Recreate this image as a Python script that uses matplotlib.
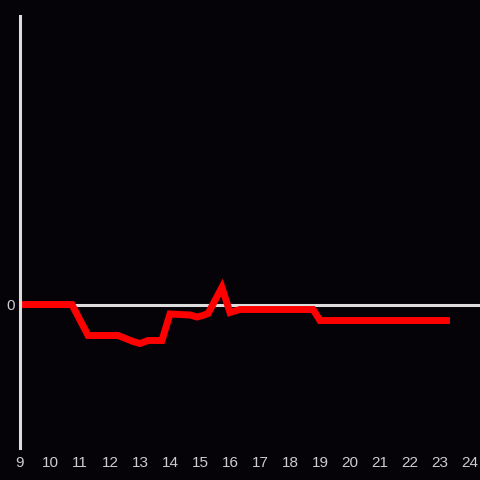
import matplotlib
matplotlib.use('agg')
import matplotlib.pyplot as plt

hours = [9.0, 10.73, 11.27, 12.27, 12.77, 13.0, 13.27, 13.73, 14.0, 14.67, 14.9, 15.1, 15.27,
         15.73, 16.0, 16.33, 18.77, 19.0, 23.33]
values = [0.0, 0.0, -3.1, -3.1, -3.7, -3.9, -3.6, -3.6, -0.95, -1.05, -1.25, -1.1, -0.9,
          1.7, -0.8, -0.5, -0.5, -1.6, -1.6]
xticks = list(range(9, 25))

bg = '#050308'
fig = plt.figure(figsize=(4.8, 4.8), dpi=100, facecolor=bg)
ax = fig.add_axes([20/480, 32/480, 460/480, 432/480], facecolor=bg)

ax.axhline(0, color='#dddddd', lw=2.2, zorder=1)
ax.plot(hours, values, color='#ff0000', lw=5, solid_joinstyle='miter',
        solid_capstyle='butt', zorder=2)

ax.set_xlim(9, 24.333)
ax.set_ylim(-14.35, 28.85)
ax.set_xticks(xticks)
ax.set_xticklabels([str(t) for t in xticks])
ax.set_yticks([0])
ax.set_yticklabels(['0'])
ax.tick_params(length=0, colors='#cccccc', labelsize=11)
ax.tick_params(axis='x', pad=6)
ax.tick_params(axis='y', pad=4)
for lab in ax.get_xticklabels() + ax.get_yticklabels():
    lab.set_family('Liberation Sans')
for s in ['top', 'right', 'bottom']:
    ax.spines[s].set_visible(False)
ax.spines['left'].set_color('#dddddd')
ax.spines['left'].set_linewidth(2.2)

fig.savefig('out.png', facecolor=bg)
